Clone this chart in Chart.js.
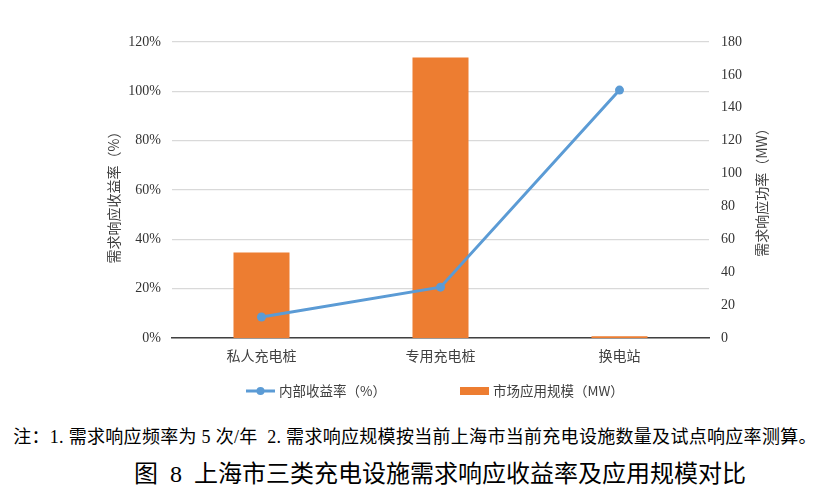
<!DOCTYPE html>
<html>
<head>
<meta charset="utf-8">
<script src="https://cdn.jsdelivr.net/npm/chart.js@4"></script>
<style>
  html, body { margin: 0; padding: 0; background: #fff; width: 820px; height: 501px; overflow: hidden; }
  #wrap { position: absolute; left: 0; top: 0; width: 820px; height: 410px; }
  .cap { position: absolute; text-align: center; color: #000; white-space: nowrap;
         font-family: "Liberation Serif", "Noto Sans CJK SC", serif; }
  #note { top: 425px; left: 5px; width: 820px; font-size: 18px; line-height: 24px; letter-spacing: 0.3px; }
  #title { top: 458px; left: 30px; width: 820px; font-size: 24px; line-height: 32px; }
</style>
</head>
<body>
<div id="wrap"><canvas id="c" width="820" height="410"></canvas></div>
<div id="note" class="cap">注：1. 需求响应频率为 5 次/年&nbsp;&nbsp;2. 需求响应规模按当前上海市当前充电设施数量及试点响应率测算。</div>
<div id="title" class="cap">图&nbsp;&nbsp;8&nbsp;&nbsp;上海市三类充电设施需求响应收益率及应用规模对比</div>
<script>
const categories = ['私人充电桩', '专用充电桩', '换电站'];
const irrValues = [8.5, 20.6, 100.5];          // 内部收益率（%）
const scaleValues = [52, 170.5, 1];            // 市场应用规模（MW）
const leftTicks = [0, 20, 40, 60, 80, 100, 120];
const rightTicks = [0, 20, 40, 60, 80, 100, 120, 140, 160, 180];
const lineName = '内部收益率（%）';
const barName = '市场应用规模（MW）';
const leftTitle = '需求响应收益率（%）';
const rightTitle = '需求响应功率（MW）';

const BLUE = '#5B9BD5';
const ORANGE = '#ED7D31';
const SERIF = '"Liberation Serif", "Times New Roman", serif';
const CJK = '"Noto Sans CJK SC", sans-serif';

const extras = {
  id: 'extras',
  afterDraw(chart) {
    const ctx = chart.ctx;
    const area = chart.chartArea;
    const midY = (area.top + area.bottom) / 2;
    ctx.save();
    ctx.fillStyle = '#404040';
    ctx.font = '14px ' + CJK;
    ctx.textAlign = 'center';
    ctx.textBaseline = 'middle';
    // left axis title
    ctx.save();
    ctx.translate(114, midY + 4);
    ctx.rotate(-Math.PI / 2);
    ctx.fillText(leftTitle, 0, 0);
    ctx.restore();
    // right axis title
    ctx.save();
    ctx.translate(762, midY - 1);
    ctx.rotate(-Math.PI / 2);
    ctx.fillText(rightTitle, 0, 0);
    ctx.restore();

    // legend
    const ly = 391;
    ctx.font = '13.5px ' + CJK;
    ctx.textAlign = 'left';
    ctx.strokeStyle = BLUE;
    ctx.lineWidth = 3;
    ctx.beginPath();
    ctx.moveTo(246, ly);
    ctx.lineTo(275, ly);
    ctx.stroke();
    ctx.fillStyle = BLUE;
    ctx.beginPath();
    ctx.arc(260.5, ly, 4, 0, Math.PI * 2);
    ctx.fill();
    ctx.fillStyle = '#404040';
    ctx.fillText(chart.data.datasets[0].label, 279, ly);
    ctx.fillStyle = ORANGE;
    ctx.fillRect(460, ly - 4, 29, 8);
    ctx.fillStyle = '#404040';
    ctx.fillText(chart.data.datasets[1].label, 493, ly);
    ctx.restore();
  }
};

new Chart(document.getElementById('c'), {
  type: 'bar',
  data: {
    labels: categories,
    datasets: [
      {
        type: 'line',
        label: lineName,
        data: irrValues,
        yAxisID: 'yL',
        borderColor: BLUE,
        backgroundColor: BLUE,
        borderWidth: 3,
        pointRadius: 4.5,
        pointHoverRadius: 4.5,
        pointBackgroundColor: BLUE,
        pointBorderWidth: 0,
        tension: 0,
        order: 0
      },
      {
        type: 'bar',
        label: barName,
        data: scaleValues,
        yAxisID: 'yR',
        backgroundColor: ORANGE,
        borderWidth: 0,
        categoryPercentage: 1.0,
        barPercentage: 0.313,
        order: 1
      }
    ]
  },
  options: {
    responsive: false,
    animation: false,
    devicePixelRatio: 1,
    layout: { padding: { top: 42, bottom: 42, left: 0, right: 0 } },
    plugins: { legend: { display: false }, tooltip: { enabled: false } },
    scales: {
      x: {
        offset: true,
        grid: { display: false, drawTicks: false },
        border: { display: true, color: '#404040', width: 1.5 },
        ticks: { color: '#404040', font: { family: CJK, size: 14 }, padding: 9 },
        afterFit(s) { s.height = 30; }
      },
      yL: {
        position: 'left',
        min: 0, max: 120,
        afterBuildTicks(s) { s.ticks = leftTicks.map(v => ({ value: v })); },
        grid: { color: '#d9d9d9', lineWidth: 1.2, drawTicks: false },
        border: { display: false },
        ticks: {
          color: '#333333', padding: 11,
          font: { family: SERIF, size: 14 },
          callback: v => v + '%'
        },
        afterFit(s) { s.width = 172; }
      },
      yR: {
        position: 'right',
        min: 0, max: 180,
        afterBuildTicks(s) { s.ticks = rightTicks.map(v => ({ value: v })); },
        grid: { display: false, drawTicks: false },
        border: { display: false },
        ticks: {
          color: '#333333', padding: 12,
          font: { family: SERIF, size: 14 }
        },
        afterFit(s) { s.width = 111; }
      }
    }
  },
  plugins: [extras]
});
</script>
</body>
</html>
